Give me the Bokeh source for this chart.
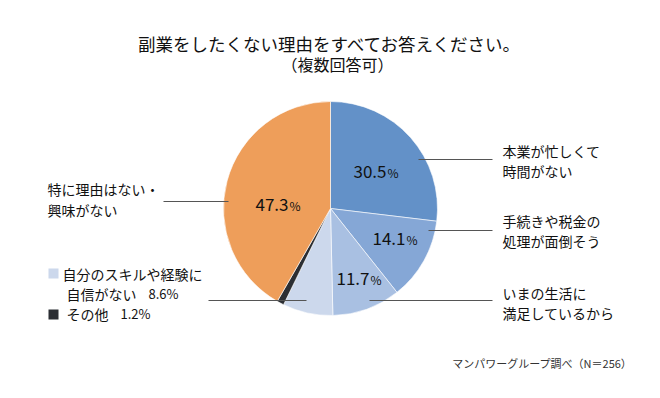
import numpy as np
from bokeh.plotting import figure
from bokeh.models import Range1d, ColumnDataSource
from bokeh.core.properties import value
from bokeh.embed import file_html
from bokeh.resources import INLINE

# ---- data ----
categories = ["本業が忙しくて時間がない", "手続きや税金の処理が面倒そう", "いまの生活に満足しているから",
              "自分のスキルや経験に自信がない", "その他", "特に理由はない・興味がない"]
shares = [30.5, 14.1, 11.7, 8.6, 1.2, 47.3]
pct_labels = ["30.5", "14.1", "11.7", "8.6", "1.2", "47.3"]
colors = ["#6391C8", "#85A7D6", "#A9C0E2", "#CCD8EC", "#2B2E33", "#EE9E5A"]

title = "副業をしたくない理由をすべてお答えください。"
subtitle = "（複数回答可）"
source_note = "マンパワーグループ調べ（N＝256）"

FONT = "Noto Sans CJK JP"
W, H = 644, 382

p = figure(width=W, height=H, output_backend="svg", toolbar_location=None,
           x_range=Range1d(0, W), y_range=Range1d(398 - H, 398),
           min_border=0, outline_line_color=None, background_fill_color="white")
p.axis.visible = False
p.grid.visible = False

def Y(py):
    return 398 - py

# ---- pie ----
cx, cy, r = 330, 208, 107
fr = np.array(shares) / sum(shares)
cum = np.concatenate([[0], np.cumsum(fr)])
start = np.pi / 2 - 2 * np.pi * cum[:-1]
end = np.pi / 2 - 2 * np.pi * cum[1:]
src = ColumnDataSource(dict(start=start, end=end, color=colors))
p.wedge(x=cx, y=Y(cy), radius=r, start_angle="start", end_angle="end",
        direction="clock", fill_color="color", line_color="white", line_width=0.6,
        source=src)

# ---- percentage labels inside slices (layout positions) ----
inside_idx = [0, 1, 2, 5]
inside_pos = [(386, 171), (405, 238), (369, 278), (288, 204)]
for i, (x, y) in zip(inside_idx, inside_pos):
    p.text(x=[x], y=[Y(y)], text=[pct_labels[i]], text_font=value(FONT),
           text_font_size="17px", text_align="right", text_baseline="middle",
           text_color="#111111")
    p.text(x=[x + 1], y=[Y(y + 1)], text=["%"], text_font=value(FONT),
           text_font_size="12px", text_align="left", text_baseline="middle",
           text_color="#111111")

# ---- leader lines ----
leaders = [((418, 159), (492, 159)), ((428, 230), (492, 230)), ((369, 300), (492, 300)),
           ((208, 300), (306, 300)), ((163, 201), (228, 201))]
p.multi_line(xs=[[a[0], b[0]] for a, b in leaders], ys=[[Y(a[1]), Y(b[1])] for a, b in leaders],
             line_color="#555555", line_width=1)

# ---- outer category labels ----
LBL = "14px"
right_lines = [(["本業が忙しくて", "時間がない"], 502, 150),
               (["手続きや税金の", "処理が面倒そう"], 502, 220),
               (["いまの生活に", "満足しているから"], 502, 292)]
for lines, x, y in right_lines:
    for k, t in enumerate(lines):
        p.text(x=[x], y=[Y(y + 20 * k)], text=[t], text_font=value(FONT),
               text_font_size=LBL, text_align="left", text_baseline="middle",
               text_color="#111111")

for k, t in enumerate(["特に理由はない・", "興味がない"]):
    p.text(x=[47], y=[Y(188 + 21 * k)], text=[t], text_font=value(FONT),
           text_font_size=LBL, text_align="left", text_baseline="middle",
           text_color="#111111")

# legend-style labels for small slices
p.scatter(x=[53, 53], y=[Y(273), Y(314)], marker="square", size=10,
          fill_color=[colors[3], colors[4]], line_color=None)
p.text(x=[62], y=[Y(273)], text=["自分のスキルや経験に"], text_font=value(FONT),
       text_font_size=LBL, text_align="left", text_baseline="middle", text_color="#111111")
p.text(x=[66], y=[Y(293)], text=["自信がない"], text_font=value(FONT),
       text_font_size=LBL, text_align="left", text_baseline="middle", text_color="#111111")
p.text(x=[148], y=[Y(293)], text=[pct_labels[3] + "%"], text_font=value(FONT),
       text_font_size="13px", text_align="left", text_baseline="middle", text_color="#111111")
p.text(x=[66], y=[Y(313)], text=["その他"], text_font=value(FONT),
       text_font_size=LBL, text_align="left", text_baseline="middle", text_color="#111111")
p.text(x=[120], y=[Y(313)], text=[pct_labels[4] + "%"], text_font=value(FONT),
       text_font_size="13px", text_align="left", text_baseline="middle", text_color="#111111")

# ---- titles ----
p.text(x=[330], y=[Y(43)], text=[title], text_font=value(FONT), text_font_size="17.5px",
       text_align="center", text_baseline="middle", text_color="#111111")
p.text(x=[337], y=[Y(63)], text=[subtitle], text_font=value(FONT), text_font_size="16px",
       text_align="center", text_baseline="middle", text_color="#111111")
p.text(x=[632], y=[Y(362)], text=[source_note], text_font=value(FONT), text_font_size="11px",
       text_align="right", text_baseline="middle", text_color="#333333")

open("out.html", "w").write(file_html(p, INLINE))
